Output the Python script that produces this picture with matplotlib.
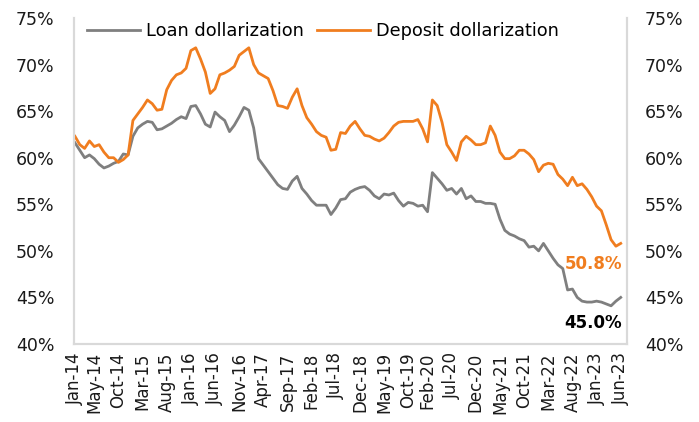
import matplotlib
matplotlib.use("Agg")
import matplotlib.pyplot as plt
import numpy as np

plt.rcParams['font.family'] = ['DejaVu Sans']

# monthly, Jan-14 .. Jun-23 (%)
loan = [61.6, 60.8, 60.0, 60.3, 59.9, 59.3, 58.9, 59.1, 59.4, 59.6,
        60.4, 60.3, 62.3, 63.2, 63.6, 63.9, 63.8, 63.0, 63.1, 63.4,
        63.7, 64.1, 64.4, 64.2, 65.5, 65.6, 64.7, 63.6, 63.3, 64.9,
        64.4, 64.0, 62.8, 63.5, 64.4, 65.4, 65.1, 63.2, 59.9, 59.2,
        58.5, 57.8, 57.1, 56.7, 56.6, 57.5, 58.0, 56.7, 56.1, 55.4,
        54.9, 54.9, 54.9, 53.9, 54.6, 55.5, 55.6, 56.3, 56.6, 56.8,
        56.9, 56.5, 55.9, 55.6, 56.1, 56.0, 56.2, 55.4, 54.8, 55.2,
        55.1, 54.8, 54.9, 54.2, 58.4, 57.8, 57.2, 56.5, 56.7, 56.1,
        56.7, 55.6, 55.9, 55.3, 55.3, 55.1, 55.1, 55.0, 53.4, 52.2,
        51.8, 51.6, 51.3, 51.1, 50.4, 50.5, 50.0, 50.8, 50.0, 49.2,
        48.5, 48.1, 45.8, 45.9, 45.0, 44.6, 44.5, 44.5, 44.6, 44.5,
        44.3, 44.1, 44.6, 45.0]
deposit = [62.3, 61.4, 61.0, 61.8, 61.2, 61.4, 60.6, 60.0, 60.0, 59.5,
           59.8, 60.3, 64.0, 64.7, 65.4, 66.2, 65.8, 65.1, 65.2, 67.3,
           68.3, 68.9, 69.1, 69.6, 71.5, 71.8, 70.6, 69.2, 66.9, 67.4,
           68.9, 69.1, 69.4, 69.8, 71.0, 71.4, 71.8, 70.0, 69.1, 68.8,
           68.5, 67.2, 65.6, 65.5, 65.3, 66.5, 67.4, 65.6, 64.3, 63.6,
           62.8, 62.4, 62.2, 60.8, 60.9, 62.7, 62.6, 63.4, 63.9, 63.1,
           62.4, 62.3, 62.0, 61.8, 62.1, 62.7, 63.4, 63.8, 63.9, 63.9,
           63.9, 64.1, 63.1, 61.7, 66.2, 65.6, 63.8, 61.4, 60.6, 59.7,
           61.7, 62.3, 61.9, 61.4, 61.4, 61.6, 63.4, 62.4, 60.6, 59.9,
           59.9, 60.2, 60.8, 60.8, 60.4, 59.8, 58.5, 59.2, 59.4, 59.3,
           58.2, 57.7, 57.0, 57.9, 57.0, 57.2, 56.6, 55.8, 54.8, 54.3,
           52.8, 51.2, 50.5, 50.8]

tick_pos = [0, 4, 9, 14, 19, 24, 29, 34, 39, 44, 49, 54, 59, 64, 69, 73,
            78, 83, 88, 93, 98, 103, 108, 113]
tick_labels = ["Jan-14", "May-14", "Oct-14", "Mar-15", "Aug-15", "Jan-16",
               "Jun-16", "Nov-16", "Apr-17", "Sep-17", "Feb-18", "Jul-18",
               "Dec-18", "May-19", "Oct-19", "Feb-20", "Jul-20", "Dec-20",
               "May-21", "Oct-21", "Mar-22", "Aug-22", "Jan-23", "Jun-23"]
y_ticks = [40, 45, 50, 55, 60, 65, 70, 75]

GRAY = "#7f7f7f"
ORANGE = "#f07d1f"
SPINE = "#d9d9d9"

fig = plt.figure(figsize=(6.99, 4.22), dpi=100)
ax = fig.add_axes([74 / 699, 1 - 344 / 422, 553 / 699, 326 / 422])

x = np.arange(len(loan))
ax.plot(x, loan, color=GRAY, lw=2.0, label="Loan dollarization")
ax.plot(x, deposit, color=ORANGE, lw=2.0, label="Deposit dollarization")

ax.set_xlim(-0.2, 114.3)
ax.set_ylim(40, 75)
ax.set_xticks(tick_pos)
ax.set_xticklabels(tick_labels, rotation=90, fontsize=12)
ax.set_yticks(y_ticks)
ax.set_yticklabels([f"{v}%" for v in y_ticks], fontsize=12.5)
ax.tick_params(axis="both", length=0, colors="#1a1a1a")
ax.tick_params(axis="y", pad=14)
ax.tick_params(axis="x", pad=6)

ax2 = ax.twinx()
ax2.set_ylim(40, 75)
ax2.set_yticks(y_ticks)
ax2.set_yticklabels([f"{v}%" for v in y_ticks], fontsize=12.5)
ax2.tick_params(axis="y", length=0, pad=13, colors="#1a1a1a")

for a in (ax, ax2):
    a.spines["top"].set_visible(False)
    for s in ("left", "right", "bottom"):
        a.spines[s].set_color(SPINE)
        a.spines[s].set_linewidth(1.5)

ax.text(113.3, 48.6, f"{deposit[-1]:.1f}%", color=ORANGE, fontsize=12,
        fontweight="bold", ha="right", va="center")
ax.text(113.3, 42.3, f"{loan[-1]:.1f}%", color="black", fontsize=12,
        fontweight="bold", ha="right", va="center")

ax.legend(loc="upper left", bbox_to_anchor=(0.01, 1.01), frameon=False,
          ncol=2, fontsize=12.8, handlelength=3.0, handletextpad=0.35,
          columnspacing=0.7, borderaxespad=0)

fig.savefig("out.png", dpi=100)
